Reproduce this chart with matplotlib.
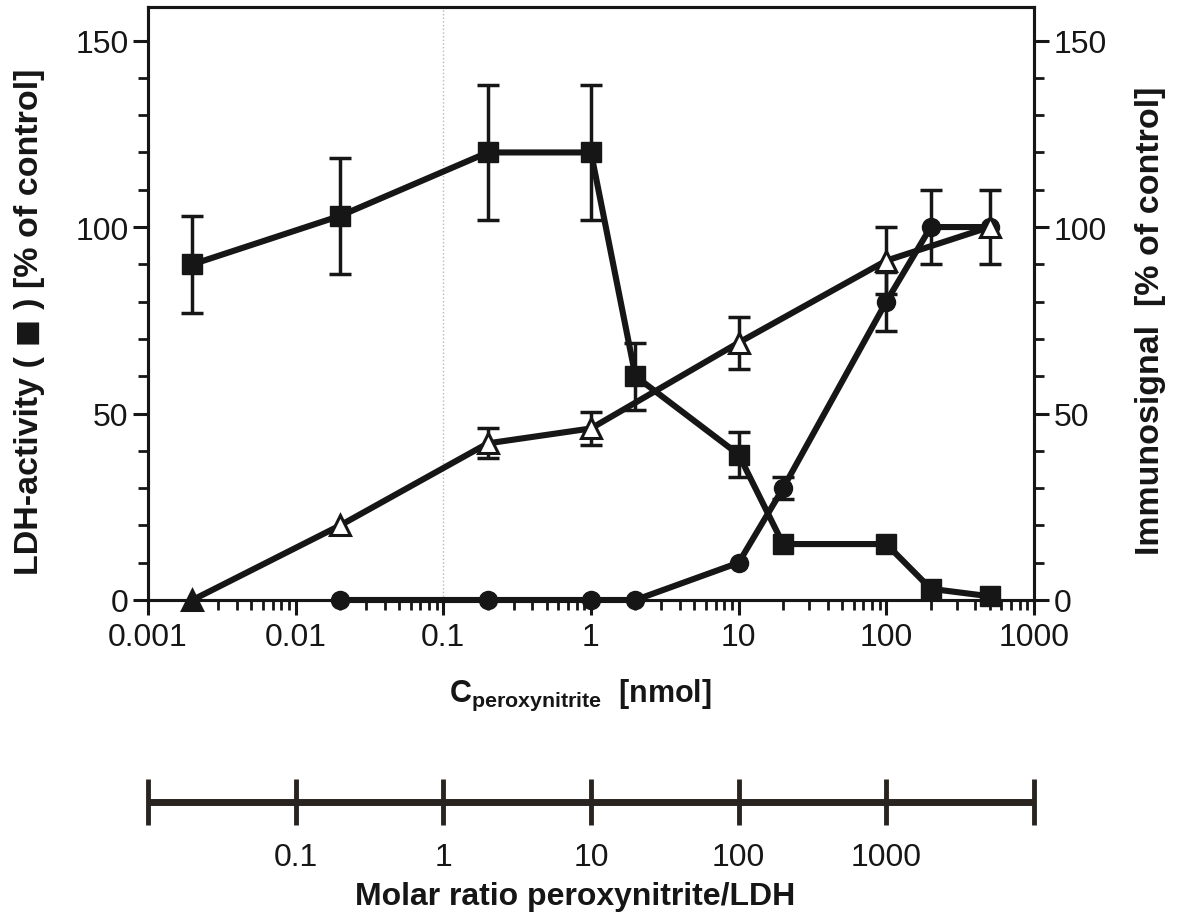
import numpy as np
import matplotlib
matplotlib.use("Agg")
import matplotlib.pyplot as plt
from matplotlib.ticker import FixedLocator, MultipleLocator, LogLocator, NullFormatter, FixedFormatter

plt.rcParams['font.family'] = ['Liberation Sans', 'DejaVu Sans']
plt.rcParams['mathtext.fontset'] = 'custom'
plt.rcParams['mathtext.rm'] = 'Liberation Sans'
plt.rcParams['mathtext.bf'] = 'Liberation Sans:bold'

# ---- data ----
x_ldh = [0.002, 0.02, 0.2, 1, 2, 10, 20, 100, 200, 500]
ldh = [90, 103, 120, 120, 60, 39, 15, 15, 3, 1]
ldh_err = [13, 15.5, 18, 18, 9, 6, 0, 0, 0, 0]

x_tri = [0.002, 0.02, 0.2, 1, 10, 100, 500]
tri = [0, 20, 42, 46, 69, 91, 100]
tri_err = [0, 0, 4, 4.5, 7, 9, 0]

x_circ = [0.02, 0.2, 1, 2, 10, 20, 100, 200, 500]
circ = [0, 0, 0, 0, 10, 30, 80, 100, 100]
circ_err = [0, 0, 0, 0, 0, 3, 8, 10, 10]

x_ticks = [0.001, 0.01, 0.1, 1, 10, 100, 1000]
x_ticklabels = ['0.001', '0.01', '0.1', '1', '10', '100', '1000']
y_ticks = [0, 50, 100, 150]
grid_x = [0.1]

ratio_ticks = [0.1, 1, 10, 100, 1000]
ratio_labels = ['0.1', '1', '10', '100', '1000']
ratio_ends = [0.01, 10000]

W, H = 1179, 920
fig = plt.figure(figsize=(W / 100, H / 100), dpi=100)

L, R, T, B = 148, 1034, 8, 601
ax = fig.add_axes([L / W, 1 - B / H, (R - L) / W, (B - T) / H])
ax.set_xscale('log')
ax.set_xlim(0.001, 1000)
ax.set_ylim(0, 159)

ink = '#161616'
lw = 4.4
elw = 2.5
cs = 8
tfs = 23

for gx in grid_x:
    ax.axvline(gx, color='#b8b8b8', ls=':', lw=1.0, zorder=0)

def err(xs, ys, es):
    xs = np.asarray(xs, float); ys = np.asarray(ys, float); es = np.asarray(es, float)
    m = es > 0
    ax.errorbar(xs[m], ys[m], yerr=es[m], fmt='none', ecolor=ink, elinewidth=elw,
                capsize=cs, capthick=elw, zorder=2)

err(x_tri, tri, tri_err)
err(x_circ, circ, circ_err)
err(x_ldh, ldh, ldh_err)

ax.plot(x_circ, circ, color=ink, lw=lw, marker='o', ms=13, mfc=ink, mec=ink, zorder=3, clip_on=False)
ax.plot(x_tri, tri, color=ink, lw=lw, marker='^', ms=14, mfc='white', mec=ink, mew=2.2,
        zorder=4, clip_on=False)
ax.plot(x_tri[:1], tri[:1], ls='none', marker='^', ms=14, mfc=ink, mec=ink, zorder=4.5, clip_on=False)
ax.plot(x_ldh, ldh, color=ink, lw=lw, marker='s', ms=14, mfc=ink, mec=ink, zorder=5, clip_on=False)

for s in ax.spines.values():
    s.set_linewidth(2.2)
    s.set_color(ink)

ax.xaxis.set_major_locator(FixedLocator(x_ticks))
ax.xaxis.set_major_formatter(FixedFormatter(x_ticklabels))
ax.xaxis.set_minor_locator(LogLocator(base=10, subs=np.arange(2, 10)))
ax.xaxis.set_minor_formatter(NullFormatter())
ax.yaxis.set_major_locator(FixedLocator(y_ticks))
ax.yaxis.set_minor_locator(MultipleLocator(10))

ax.tick_params(axis='both', which='major', direction='out', length=11, width=2.2,
               labelsize=tfs, color=ink, labelcolor=ink, pad=3)
ax.tick_params(axis='both', which='minor', direction='out', length=7, width=2.0, color=ink)
ax.tick_params(axis='x', which='major', pad=5)

ax2 = ax.twinx()
ax2.set_ylim(0, 159)
ax2.yaxis.set_major_locator(FixedLocator(y_ticks))
ax2.yaxis.set_minor_locator(MultipleLocator(10))
ax2.tick_params(axis='y', which='major', direction='out', length=11, width=2.2,
                labelsize=tfs, color=ink, labelcolor=ink, pad=3)
ax2.tick_params(axis='y', which='minor', direction='out', length=7, width=2.0, color=ink)
for s in ax2.spines.values():
    s.set_linewidth(2.2)
    s.set_color(ink)

fig.text(30 / W, 1 - 322 / H, 'LDH-activity ( \u25FC ) [% of control]', rotation=90,
         ha='center', va='center', fontsize=24.5, fontweight='bold', color=ink)
fig.text(1151 / W, 1 - 321 / H, 'Immunosignal  [% of control]', rotation=90,
         ha='center', va='center', fontsize=24.5, fontweight='bold', color=ink)
fig.text(580 / W, 1 - 695 / H, r'$\mathbf{C}_{\mathbf{peroxynitrite}}$' + '  [nmol]',
         ha='center', va='center', fontsize=22, fontweight='bold', color=ink)

# ---- molar ratio axis ----
line_y = 803
ax3 = fig.add_axes([L / W, 1 - line_y / H, (R - L) / W, 0.0001])
ax3.set_xscale('log')
ax3.set_xlim(ratio_ends[0], ratio_ends[1])
ax3.set_ylim(0, 1)
axc = '#2a2420'
for k in ['top', 'left', 'right']:
    ax3.spines[k].set_visible(False)
ax3.spines['bottom'].set_linewidth(5)
ax3.spines['bottom'].set_color(axc)
ax3.spines['bottom'].set_capstyle('butt')
ax3.set_yticks([])
ax3.xaxis.set_major_locator(FixedLocator(ratio_ticks + ratio_ends))
ax3.xaxis.set_major_formatter(FixedFormatter(ratio_labels + ['', '']))
ax3.xaxis.set_minor_locator(FixedLocator([]))
ax3.tick_params(axis='x', which='major', direction='inout', length=33, width=3.5,
                color=axc, labelsize=tfs, labelcolor=ink, pad=12)
ax3.patch.set_visible(False)

fig.text(575 / W, 1 - 897 / H, 'Molar ratio peroxynitrite/LDH', ha='center', va='center',
         fontsize=23, fontweight='bold', color=ink)

fig.savefig('out.png', dpi=100)
